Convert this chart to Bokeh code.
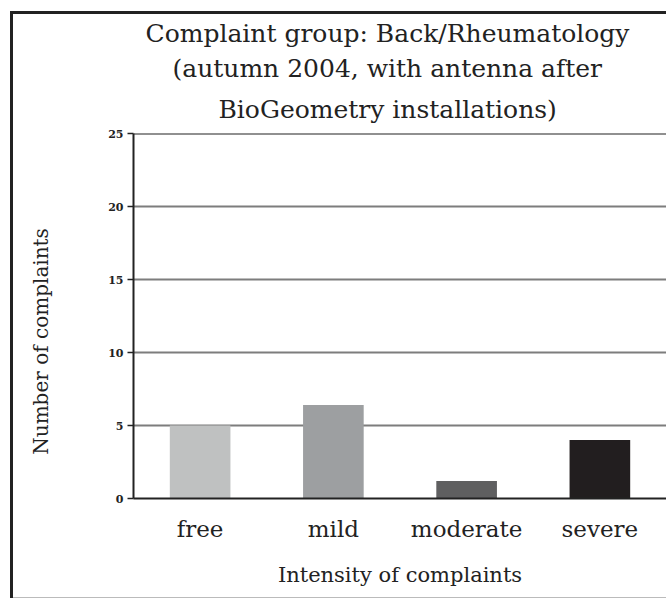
from bokeh.plotting import figure
from bokeh.models import FactorRange, Range1d, Title, Span, FixedTicker, ColumnDataSource
from bokeh.embed import file_html
from bokeh.resources import INLINE

categories = ["free", "mild", "moderate", "severe"]
complaints = [5.0, 6.4, 1.2, 4.0]
bar_colors = ["#bfc1c1", "#9d9fa1", "#5f5f60", "#221e1f"]
y_ticks = [0, 5, 10, 15, 20, 25]
title_lines = ["Complaint group: Back/Rheumatology",
               "(autumn 2004, with antenna after",
               "BioGeometry installations)"]
x_title = "Intensity of complaints"
y_title = "Number of complaints"

FONT = "DejaVu Serif"
DARK = "#222222"

src = ColumnDataSource(dict(cat=categories, val=complaints, color=bar_colors))

p = figure(width=666, height=598, output_backend="svg", toolbar_location=None,
           x_range=FactorRange(*categories, range_padding=0),
           y_range=Range1d(0, 25),
           min_border_left=133, min_border_right=0, min_border_top=133, min_border_bottom=100)

p.vbar(x="cat", top="val", width=0.455, color="color", line_color=None, source=src)

p.outline_line_color = None
p.background_fill_color = "white"
p.border_fill_color = None

# three title lines, centred on the same point (added innermost first)
title_offsets = [12, 39, 85]
title_standoffs = [5, 2, 19]
for line, off, so in reversed(list(zip(title_lines, title_offsets, title_standoffs))):
    p.add_layout(Title(text=line, text_font=FONT, text_font_size="25px",
                       text_font_style="normal", text_color=DARK, align="left",
                       offset=off, standoff=so), "above")

# axes
p.xaxis.axis_line_color = DARK
p.xaxis.axis_line_width = 2
p.xaxis.major_tick_line_color = None
p.xaxis.minor_tick_line_color = None
p.xaxis.major_label_text_font = FONT
p.xaxis.major_label_text_font_size = "23px"
p.xaxis.major_label_text_color = DARK
p.xaxis.major_label_standoff = 11
p.xaxis.axis_label = x_title
p.xaxis.axis_label_text_font = FONT
p.xaxis.axis_label_text_font_size = "21px"
p.xaxis.axis_label_text_font_style = "normal"
p.xaxis.axis_label_text_color = DARK
p.xaxis.axis_label_standoff = 18

p.yaxis.ticker = FixedTicker(ticks=y_ticks)
p.yaxis.axis_line_color = DARK
p.yaxis.axis_line_width = 2
p.yaxis.major_tick_line_color = DARK
p.yaxis.major_tick_line_width = 1.5
p.yaxis.major_tick_out = 6
p.yaxis.major_tick_in = 0
p.yaxis.minor_tick_line_color = None
p.yaxis.major_label_text_font = FONT
p.yaxis.major_label_text_font_size = "11px"
p.yaxis.major_label_text_font_style = "bold"
p.yaxis.major_label_text_color = DARK
p.yaxis.major_label_standoff = 4
p.yaxis.axis_label = y_title + "\u00a0" * 8
p.yaxis.axis_label_text_font = FONT
p.yaxis.axis_label_text_font_size = "20px"
p.yaxis.axis_label_text_font_style = "normal"
p.yaxis.axis_label_text_color = DARK
p.yaxis.axis_label_standoff = 52

p.xgrid.grid_line_color = None
p.ygrid.ticker = FixedTicker(ticks=y_ticks)
p.ygrid.grid_line_color = "#7d7d7d"
p.ygrid.grid_line_width = 2

p.add_layout(Span(location=25, dimension="width", line_color=DARK, line_width=2))

# outer frame of the chart: dark left/top edges drawn as inset shadows behind the
# transparent border area, faint bottom edge
p.styles = {"background-color": "#ffffff",
            "box-shadow": ("inset 10px 11px 0 0 #ffffff, "
                           "inset 13px 14px 0 0 #222222, "
                           "inset 0 -1px 0 0 #bbbbbb")}

open("out.html", "w").write(file_html(p, INLINE))
